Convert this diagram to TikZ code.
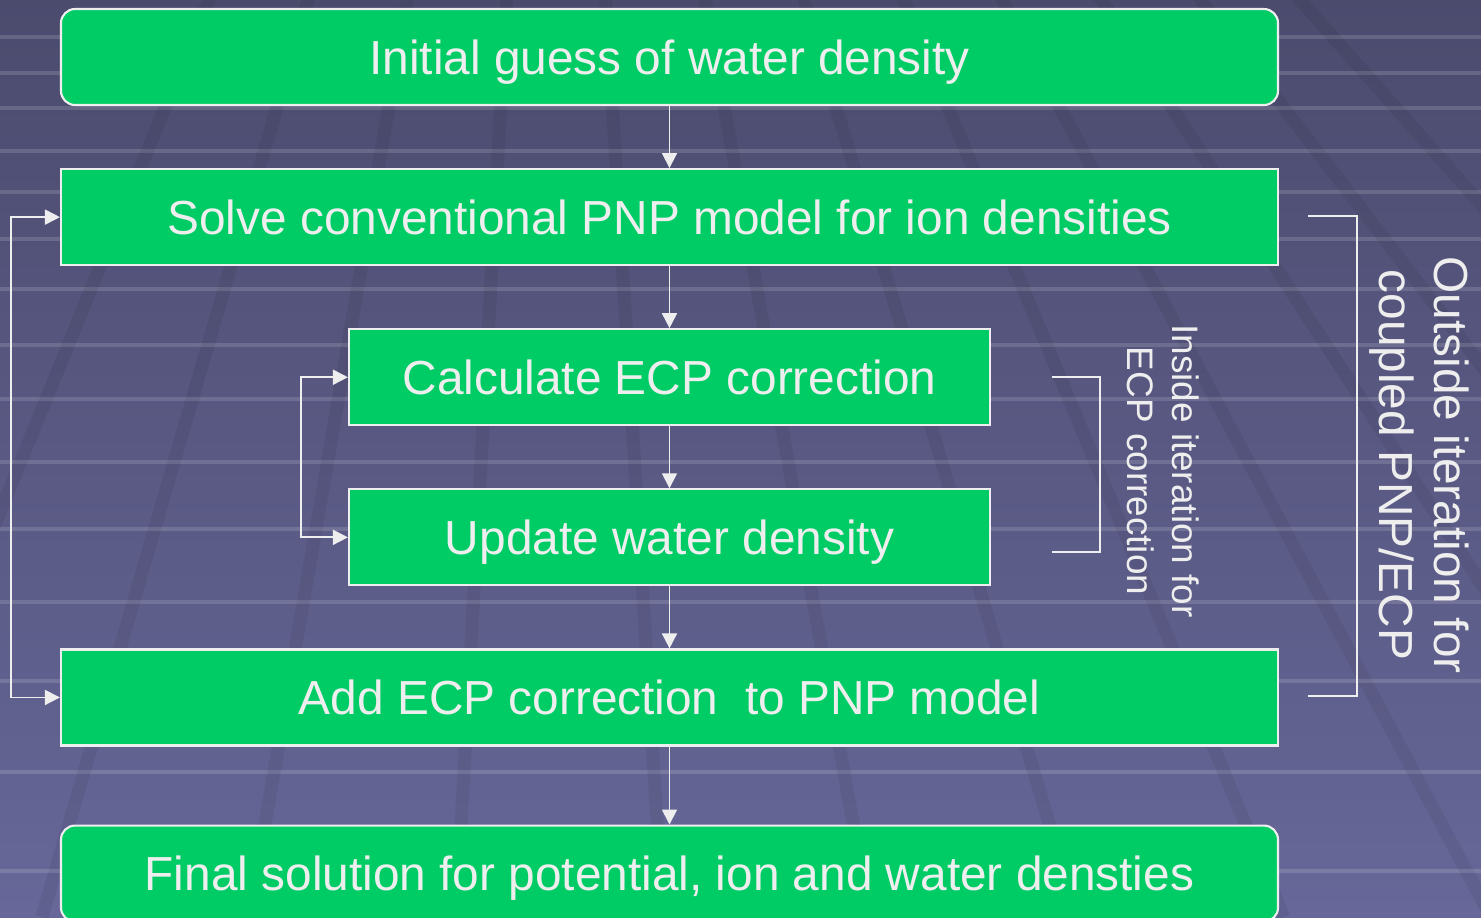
\documentclass[tikz,border=0pt]{standalone}
\usepackage{fontspec}
\setmainfont{Liberation Sans}
\usetikzlibrary{arrows.meta,positioning}
\definecolor{boxgreen}{HTML}{00CC66}
\definecolor{linewhite}{HTML}{EEEEEE}
\definecolor{bgtop}{HTML}{4B4B6E}
\definecolor{bgbot}{HTML}{676799}

\begin{document}
\begin{tikzpicture}[
    stage/.style={draw=linewhite, line width=0.6pt, fill=boxgreen, text=linewhite, align=center, minimum width=12.17cm, minimum height=0.96cm, text height=9.74pt, text depth=0pt, font=\fontsize{13.6}{16}\selectfont},
    endstage/.style={stage, rounded corners=4pt},
    inner/.style={stage, minimum width=6.41cm},
    arrow/.style={draw=linewhite, line width=0.5pt, -{Triangle[length=0.15cm, width=0.15cm]}},
    loop/.style={draw=linewhite, line width=0.5pt, {Triangle[length=0.15cm, width=0.15cm]}-{Triangle[length=0.15cm, width=0.15cm]}},
    bracket/.style={draw=linewhite, line width=0.5pt},
    note/.style={text=linewhite, align=center, rotate=-90},
    stripe/.style={draw=white, opacity=0.14, line width=0.035cm},
    band/.style={draw=black, opacity=0.06, line width=0.13cm}
]
\shade[top color=bgtop, bottom color=bgbot] (0,0) rectangle (14.81,-9.17);
\useasboundingbox (0,0) rectangle (14.81,-9.17);

% background grid
\begin{scope}
\clip (0,0) rectangle (14.81,-9.17);
\foreach \y in {0.37,0.73,1.08,1.51,1.92,2.39,2.89,3.45,3.99,4.62,5.29,6.02,6.81,7.72,8.71}
    \draw[stripe] (0,-\y) -- (14.81,-\y);
\foreach \k in {-1,...,10}
    \draw[band] (5.53,8.44) -- ({0.42+2.07*\k},-9.17);
\end{scope}

\node[endstage] (guess) at (6.695,-0.57) {Initial guess of water density};
\node[stage, below=0.62cm of guess] (solve) {Solve conventional PNP model for ion densities};
\node[inner, below=0.62cm of solve] (calc) {Calculate ECP correction};
\node[inner, below=0.62cm of calc] (update) {Update water density};
\node[stage, below=0.62cm of update] (add) {Add ECP correction\ \ to PNP model};
\node[endstage, below=0.78cm of add] (final) {Final solution for potential, ion and water densties};
\draw[arrow] (guess) -- (solve);
\draw[arrow] (solve) -- (calc);
\draw[arrow] (calc) -- (update);
\draw[arrow] (update) -- (add);
\draw[arrow] (add) -- (final);

% iteration loops
\draw[loop] (solve.west) -- ++(-0.49,0) |- (add.west);
\draw[loop] (calc.west) -- ++(-0.47,0) |- (update.west);

% brackets and notes
\draw[bracket] (10.52,-3.77) -| (11.00,-5.52) -- (10.52,-5.52);
\draw[bracket] (13.08,-2.16) -| (13.57,-6.96) -- (13.08,-6.96);
\node[note, font=\fontsize{10.5}{12.8}\selectfont] (insidenote) at (11.63,-4.71) {Inside iteration for\\ECP correction};
\node[note, font=\fontsize{13.6}{15.6}\selectfont] (outsidenote) at (14.19,-4.65) {Outside iteration for\\coupled PNP/ECP};
\end{tikzpicture}
\end{document}
